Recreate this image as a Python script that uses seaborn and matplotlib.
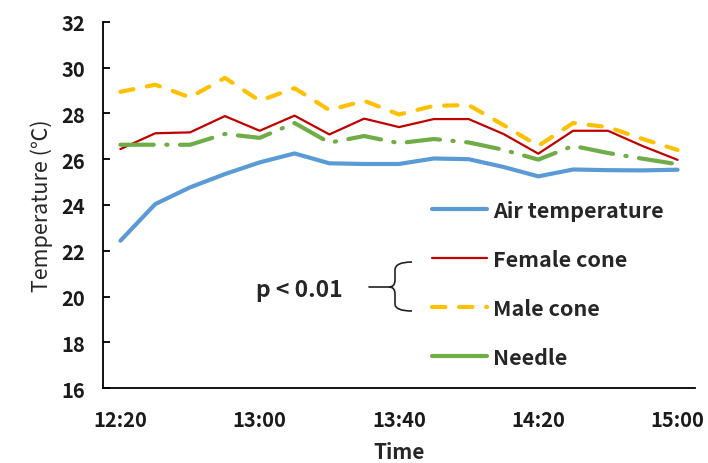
import numpy as np
import pandas as pd
import seaborn as sns
import matplotlib.pyplot as plt
from matplotlib.lines import Line2D
from matplotlib.path import Path
from matplotlib.patches import PathPatch

# time points every 10 min (category axis)
times = ['12:20', '12:30', '12:40', '12:50', '13:00', '13:10', '13:20', '13:30', '13:40',
         '13:50', '14:00', '14:10', '14:20', '14:30', '14:40', '14:50', '15:00']
air = [22.44, 24.04, 24.77, 25.35, 25.86, 26.25, 25.82, 25.79, 25.79,
       26.03, 26.00, 25.66, 25.25, 25.55, 25.52, 25.51, 25.54]
female = [26.44, 27.13, 27.17, 27.88, 27.24, 27.90, 27.08, 27.77, 27.40,
          27.75, 27.75, 27.10, 26.24, 27.24, 27.24, 26.57, 25.97]
male = [28.94, 29.25, 28.70, 29.55, 28.55, 29.10, 28.14, 28.55, 27.95,
        28.33, 28.36, 27.49, 26.58, 27.58, 27.40, 26.88, 26.40]
needle = [26.63, 26.63, 26.63, 27.10, 26.93, 27.58, 26.72, 27.01, 26.70,
          26.88, 26.73, 26.41, 25.98, 26.58, 26.27, 26.02, 25.78]

series_names = ['Air temperature', 'Female cone', 'Male cone', 'Needle']
label_times = ['12:20', '13:00', '13:40', '14:20', '15:00']

sns.set_style('white')
plt.rcParams['font.family'] = ['Noto Sans CJK JP', 'DejaVu Sans']

df = pd.DataFrame({'Time': times, 'Air temperature': air, 'Female cone': female,
                   'Male cone': male, 'Needle': needle})
df['pos'] = np.arange(len(times))
df_long = df.melt(id_vars=['Time', 'pos'], value_vars=series_names,
                  var_name='Series', value_name='Temp')

styles = {
    'Air temperature': dict(color='#5B9BD5', lw=3.0, ls='-'),
    'Female cone': dict(color='#C00000', lw=1.6, ls='-'),
    'Male cone': dict(color='#FFC000', lw=3.0, ls=(0, (3.2, 3.3))),
    'Needle': dict(color='#70AD47', lw=3.0, ls=(0, (8, 3, 0.3, 3))),
}

fig = plt.figure(figsize=(7.08, 4.64), dpi=100)
ax = fig.add_axes([103 / 708, 1 - 389.3 / 464, (695 - 103) / 708, (389.3 - 22.7) / 464])

for name in series_names:
    st = styles[name]
    sub = df_long[df_long.Series == name]
    sns.lineplot(data=sub, x='pos', y='Temp', ax=ax, color=st['color'],
                 linewidth=st['lw'], linestyle=st['ls'], legend=False,
                 dash_capstyle='round', solid_capstyle='round')

ax.set_xlim(-0.5, len(times) - 0.5)
ax.set_ylim(16, 32)
ax.set_yticks(np.arange(16, 33, 2))
label_pos = [times.index(t) for t in label_times]
ax.set_xticks(label_pos)
ax.set_xticklabels(label_times)
ax.set_xticks([p - 0.5 for p in label_pos[1:]], minor=True)
ax.tick_params(axis='x', which='major', length=0, pad=15, labelsize=14.5)
ax.tick_params(axis='x', which='minor', direction='in', length=5, width=1.3, color='black')
ax.tick_params(axis='y', direction='in', length=5, width=1.3, pad=13, labelsize=14.5,
               left=True, color='black')
for lab in ax.get_xticklabels() + ax.get_yticklabels():
    lab.set_fontweight('bold')
    lab.set_color('#1a1a1a')

for s in ['top', 'right']:
    ax.spines[s].set_visible(False)
for s in ['left', 'bottom']:
    ax.spines[s].set_color('black')
    ax.spines[s].set_linewidth(1.3)

ax.set_xlabel('Time', fontsize=15, fontweight='bold', labelpad=8)
ax.set_ylabel('Temperature (℃)', fontsize=15.5, labelpad=6)

# legend handles: needle shown as a single long dash, like the original
handle_ls = {'Air temperature': '-', 'Female cone': '-',
             'Male cone': (0, (3.2, 3.3)), 'Needle': '-'}
handles = [Line2D([], [], color=styles[n]['color'], lw=styles[n]['lw'],
                  ls=handle_ls[n], dash_capstyle='round') for n in series_names]
leg = ax.legend(handles, series_names, loc='upper left', frameon=False,
                bbox_to_anchor=(432 / 708, 1 - 201 / 464), bbox_transform=fig.transFigure,
                borderpad=0, borderaxespad=0, handlelength=2.55, handletextpad=0.3,
                labelspacing=1.3, prop={'size': 15.5, 'weight': 'bold'})

# p-value annotation with brace
def px(x, y):
    return (x / 708, 1 - y / 464)

fig.text(*px(299, 290), 'p < 0.01', ha='center', va='center', fontsize=16.5,
         fontweight='bold')
fig.add_artist(Line2D(*zip(px(369, 288), px(389, 288)), transform=fig.transFigure,
                      color='#222222', lw=1.2))
codes = [Path.MOVETO, Path.CURVE3, Path.CURVE3, Path.LINETO, Path.CURVE3, Path.CURVE3,
         Path.CURVE3, Path.CURVE3, Path.LINETO, Path.LINETO, Path.CURVE3, Path.CURVE3,
         Path.LINETO]
brace = Path([px(412, 263), px(395, 263), px(395, 271), px(395, 281), px(395, 288),
              px(389, 288), px(395, 288), px(395, 295), px(395, 305), px(395, 305),
              px(395, 312), px(412, 312), px(412, 312)], codes)
fig.add_artist(PathPatch(brace, transform=fig.transFigure, fill=False,
                         edgecolor='#222222', lw=1.2))

fig.savefig('out.png', dpi=100)
